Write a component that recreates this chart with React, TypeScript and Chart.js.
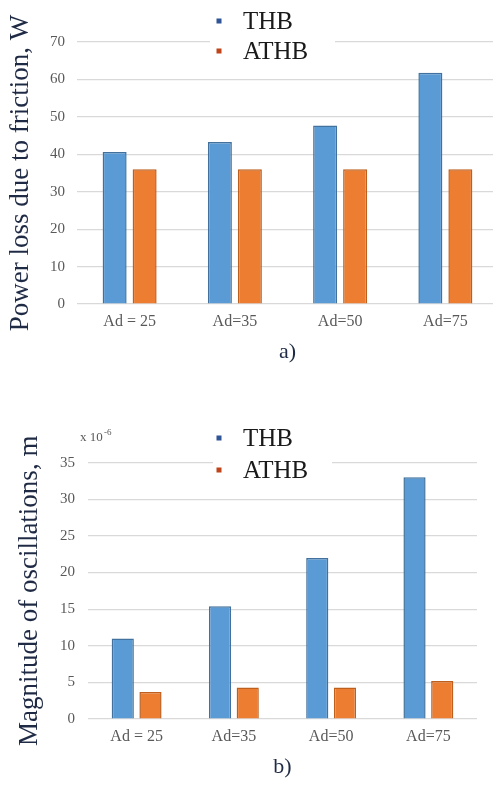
import React, { useEffect, useRef } from "react";
import { Chart, registerables } from "chart.js";

Chart.register(...registerables);

const categories = ["Ad = 25", "Ad=35", "Ad=50", "Ad=75"];
const seriesNames = ["THB", "ATHB"];
const powerTHB = [40.6, 43.3, 47.7, 61.8];
const powerATHB = [36, 36, 36, 36];
const oscTHB = [11, 15.4, 22, 33];
const oscATHB = [3.7, 4.3, 4.3, 5.2];
const powerTicks = { min: 0, max: 70, step: 10 };
const oscTicks = { min: 0, max: 35, step: 5 };

const SERIF = "'Liberation Serif', 'Times New Roman', serif";
const BLUE = "#5B9BD5";
const BLUE_BORDER = "#41719C";
const ORANGE = "#ED7D31";
const ORANGE_BORDER = "#BE5F1E";
const MARK_BLUE = "#2F5597";
const MARK_ORANGE = "#C0441A";

const overlayLegend = {
  id: "overlayLegend",
  beforeDatasetsDraw(chart: any, _a: any, opts: any) {
    if (!opts || !opts.box) return;
    const { ctx, chartArea } = chart;
    ctx.save();
    ctx.fillStyle = "#ffffff";
    ctx.fillRect(opts.box[0], chartArea.top - 3, opts.box[1] - opts.box[0], 6);
    ctx.restore();
  },
  afterDraw(chart: any, _a: any, opts: any) {
    if (!opts || !opts.items) return;
    const { ctx } = chart;
    ctx.save();
    const marks = [MARK_BLUE, MARK_ORANGE];
    chart.data.datasets.forEach((ds: any, i: number) => {
      const y = opts.items[i];
      ctx.fillStyle = marks[i];
      ctx.fillRect(opts.markX - 2.5, y - 2.5, 5, 5);
      ctx.fillStyle = "#1a1a1a";
      ctx.font = `25px ${SERIF}`;
      ctx.textBaseline = "middle";
      ctx.textAlign = "left";
      ctx.fillText(ds.label, opts.textX, y + 1);
    });
    if (opts.exponent) {
      const { chartArea } = chart;
      const x = chartArea.left - 8;
      const y = chartArea.top - 22;
      ctx.fillStyle = "#595959";
      ctx.font = `13px ${SERIF}`;
      ctx.textBaseline = "alphabetic";
      ctx.fillText("x 10", x, y);
      const w = ctx.measureText("x 10 ").width;
      ctx.font = `9px ${SERIF}`;
      ctx.fillText("-6", x + w - 2, y - 6);
    }
    ctx.restore();
  },
};

function makeConfig(
  a: number[],
  b: number[],
  range: { min: number; max: number; step: number },
  yTitle: string,
  caption: string,
  titlePadTop: number,
  tickPad: number,
  axisWidth: number,
  padRight: number,
  legendOpts: any
): any {
  return {
    type: "bar",
    data: {
      labels: categories,
      datasets: [
        {
          label: seriesNames[0],
          data: a,
          backgroundColor: BLUE,
          borderColor: BLUE_BORDER,
          borderWidth: 1.5,
          categoryPercentage: 0.57,
          barPercentage: 0.8,
        },
        {
          label: seriesNames[1],
          data: b,
          backgroundColor: ORANGE,
          borderColor: ORANGE_BORDER,
          borderWidth: 1.5,
          categoryPercentage: 0.57,
          barPercentage: 0.8,
        },
      ],
    },
    options: {
      responsive: false,
      animation: false,
      layout: { padding: { top: legendOpts.padTop, bottom: 4.4, left: 0, right: padRight } },
      plugins: {
        legend: { display: false },
        tooltip: { enabled: false },
        overlayLegend: legendOpts,
      },
      scales: {
        x: {
          grid: { display: false, drawTicks: false },
          border: { display: false },
          ticks: { color: "#595959", font: { family: SERIF, size: 16 }, padding: 8 },
          title: {
            display: true,
            text: caption,
            color: "#1F2A44",
            font: { family: SERIF, size: 22 },
            padding: { top: 8, bottom: 0 },
          },
          afterFit(scale: any) {
            scale.height = 61.6;
          },
        },
        y: {
          min: range.min,
          max: range.max,
          grid: { color: "#D9D9D9", lineWidth: 1.2, drawTicks: false },
          border: { display: false },
          ticks: {
            stepSize: range.step,
            color: "#595959",
            font: { family: SERIF, size: 15 },
            padding: tickPad,
          },
          title: {
            display: true,
            text: yTitle,
            color: "#1F2A44",
            font: { family: SERIF, size: 27 },
            padding: { top: titlePadTop, bottom: 0 },
          },
          afterFit(scale: any) {
            scale.width = axisWidth;
          },
        },
      },
    },
    plugins: [overlayLegend],
  };
}

function BarChart({ config, width, height, top }: any) {
  const ref = useRef<HTMLCanvasElement | null>(null);
  useEffect(() => {
    if (!ref.current) return;
    const chart = new Chart(ref.current, config);
    return () => chart.destroy();
  }, []);
  return (
    <div style={{ position: "absolute", left: 0, top, width: 493, height, overflow: "hidden" }}>
      <canvas ref={ref} width={width} height={height} style={{ display: "block" }} />
    </div>
  );
}

export default function App() {
  const cfgA = makeConfig(
    powerTHB,
    powerATHB,
    powerTicks,
    "Power loss due to friction, W",
    "a)",
    5,
    12,
    77,
    2,
    { padTop: 42, box: [210, 335], items: [21, 51], markX: 219, textX: 243 }
  );
  const cfgB = makeConfig(
    oscTHB,
    oscATHB,
    oscTicks,
    "Magnitude of oscillations, m",
    "b)",
    13.8,
    13,
    88,
    16,
    { padTop: 92.7, box: [213, 332], items: [68, 100], markX: 219, textX: 243, exponent: true }
  );
  return (
    <div style={{ position: "absolute", left: 0, top: 0, width: 493, height: 785, background: "#fff", overflow: "hidden" }}>
      <BarChart config={cfgA} width={500} height={370} top={0} />
      <BarChart config={cfgB} width={493} height={415} top={370} />
    </div>
  );
}
